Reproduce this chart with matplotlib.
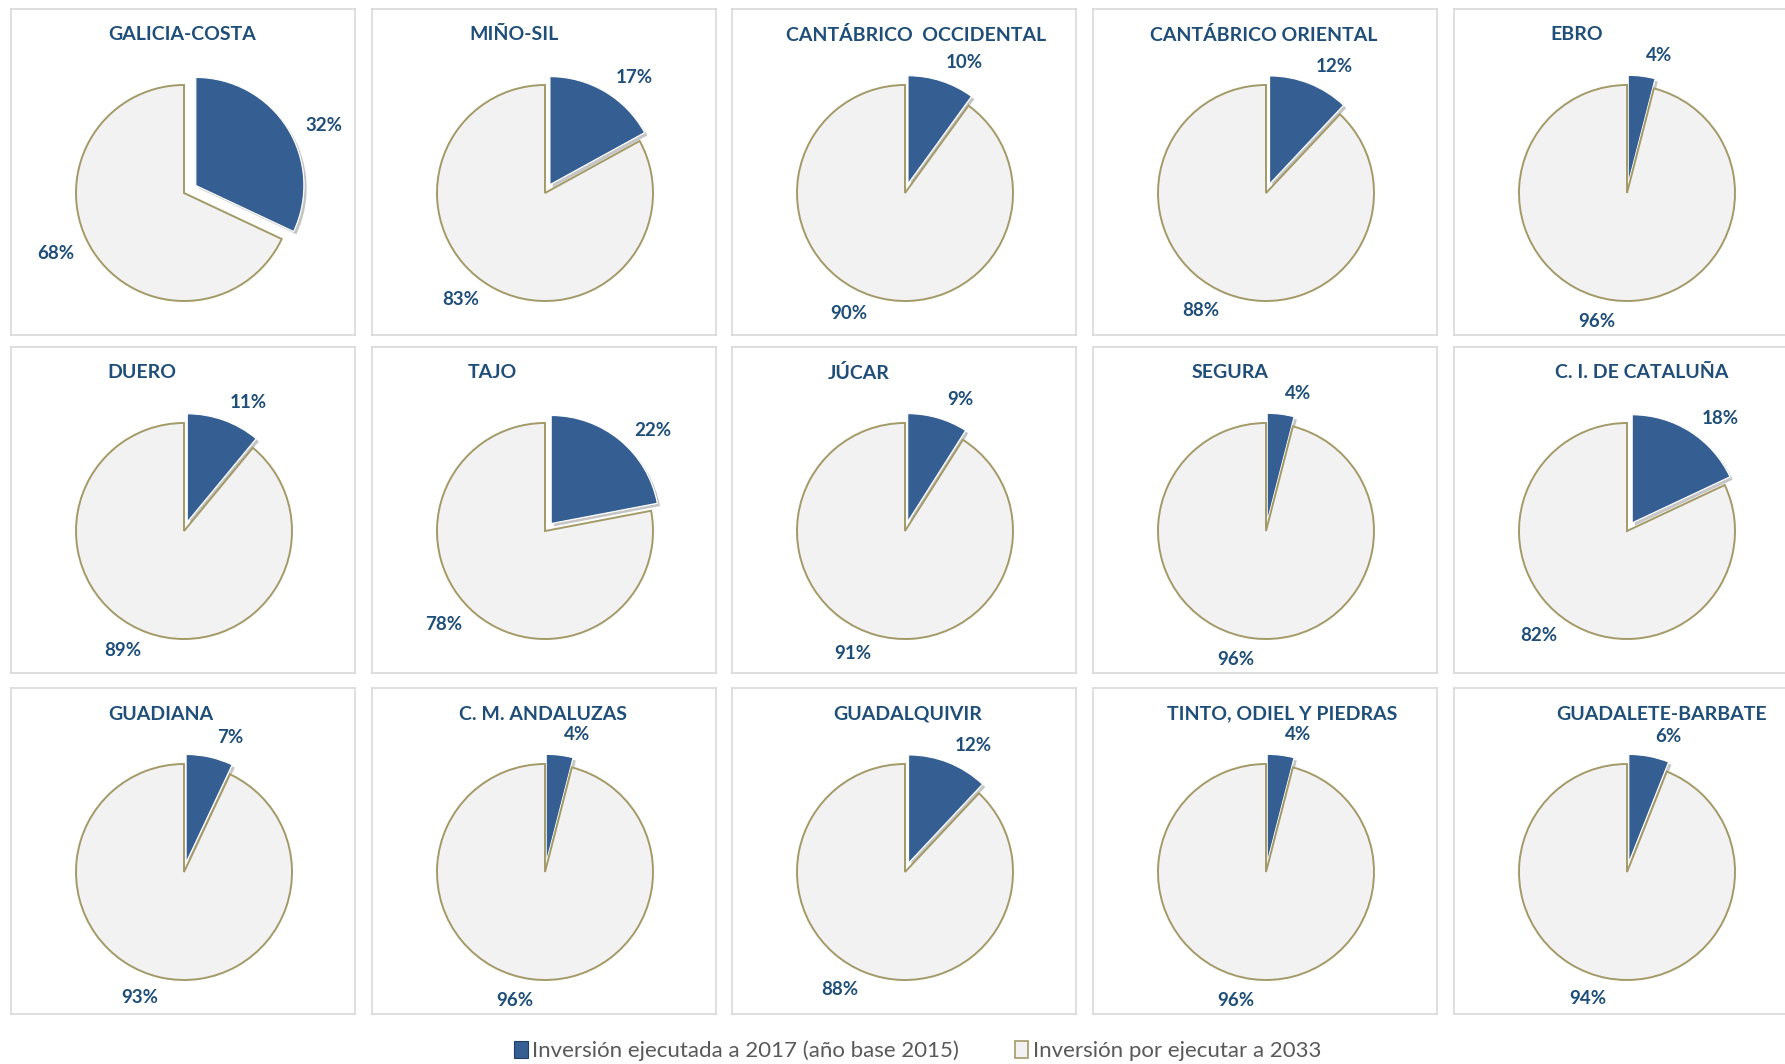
import numpy as np
import matplotlib
matplotlib.use("Agg")
import matplotlib.pyplot as plt
from matplotlib.patches import Patch
import matplotlib.patheffects as pe

plt.rcParams['font.family'] = ['Lato', 'DejaVu Sans']

# ---------------- data ----------------
basins = ["GALICIA-COSTA", "MIÑO-SIL", "CANTÁBRICO  OCCIDENTAL", "CANTÁBRICO ORIENTAL", "EBRO",
          "DUERO", "TAJO", "JÚCAR", "SEGURA", "C. I. DE CATALUÑA",
          "GUADIANA", "C. M. ANDALUZAS", "GUADALQUIVIR", "TINTO, ODIEL Y PIEDRAS", "GUADALETE-BARBATE"]
executed = [32, 17, 10, 12, 4,
            11, 22, 9, 4, 18,
            7, 4, 12, 4, 6]
pending = [68, 83, 90, 88, 96,
           89, 78, 91, 96, 82,
           93, 96, 88, 96, 94]
legend_labels = ["Inversión ejecutada a 2017 (año base 2015)", "Inversión por ejecutar a 2033"]

# ---------------- style / layout ----------------
W, H = 1785, 1064
BLUE = "#355f93"
LIGHT = "#f2f2f2"
OLIVE = "#a39a68"
TXT = "#1f4e79"
BORDER = "#d9d9d9"

col_x = [11, 372, 732, 1093, 1454]
row_y = [9, 347, 688]
PW, PH = 344, 326
CX, CY = 173, 184   # pie centre within panel (px)
R = 108             # pie radius (px)
title_x = [171, 142, 184, 171, 123,
           131, 120, 127, 137, 188,
           150, 171, 176, 189, 208]
explode_main = [0.13, 0.09, 0.09, 0.09, 0.09,
                0.09, 0.09, 0.09, 0.09, 0.09,
                0.09, 0.09, 0.09, 0.09, 0.09]
GAP, DELTA, BOXW, BOXH = 0.15, 5.0, 0.38, 0.13

fig = plt.figure(figsize=(W / 100, H / 100), dpi=100)
fig.patch.set_facecolor("white")

for i, name in enumerate(basins):
    r, c = divmod(i, 5)
    x0, y0 = col_x[c], row_y[r]
    ax = fig.add_axes([x0 / W, 1 - (y0 + PH) / H, PW / W, PH / H])

    wedges, _ = ax.pie([executed[i], pending[i]], startangle=90, counterclock=False,
                       colors=[BLUE, LIGHT], explode=[explode_main[i], 0], radius=1,
                       center=(0, 0), frame=True)
    ax.set_xlim(-CX / R, (PW - CX) / R)
    ax.set_ylim(-(PH - CY) / R, CY / R)
    ax.set_aspect('auto')
    ax.set_xticks([]); ax.set_yticks([])
    for s in ax.spines.values():
        s.set_color(BORDER); s.set_linewidth(1.2)
    ax.set_facecolor("white")

    wb, wg = wedges
    wb.set_edgecolor("white"); wb.set_linewidth(0.8)
    wb.set_path_effects([pe.withSimplePatchShadow(offset=(2, -2), shadow_rgbFace="#7f7f7f", alpha=0.45),
                         pe.Normal()])
    wg.set_edgecolor(OLIVE); wg.set_linewidth(1.4)

    # labels: "outside end" placement, box just outside the arc
    vals = [executed[i], pending[i]]
    for w, v in zip(wedges, vals):
        phi = np.deg2rad((w.theta1 + w.theta2) / 2 - DELTA)
        cx, cy = w.center
        ca, sa = np.cos(phi), np.sin(phi)
        tx = cx + (w.r + GAP) * ca + BOXW / 2 * ca
        ty = cy + (w.r + GAP) * sa + BOXH / 2 * sa
        ax.text(tx, ty, f"{v}%", ha="center", va="center", color=TXT,
                fontsize=13.5, fontweight="bold")

    ax.text((title_x[i] - CX) / R, (CY - 26) / R, name, ha="center", va="center",
            color=TXT, fontsize=14, fontweight="bold")

handles = [Patch(facecolor=BLUE, edgecolor="#1f3f66", linewidth=0.8),
           Patch(facecolor=LIGHT, edgecolor=OLIVE, linewidth=1.2)]
leg = fig.legend(handles, legend_labels, loc="center", bbox_to_anchor=(0.514, 1 - 1051 / H),
                 ncol=2, frameon=False, fontsize=16, handlelength=0.62, handleheight=0.8,
                 handletextpad=0.2, columnspacing=2.5)
for t in leg.get_texts():
    t.set_color("#595959")

fig.savefig("out.png", dpi=100, facecolor="white")
